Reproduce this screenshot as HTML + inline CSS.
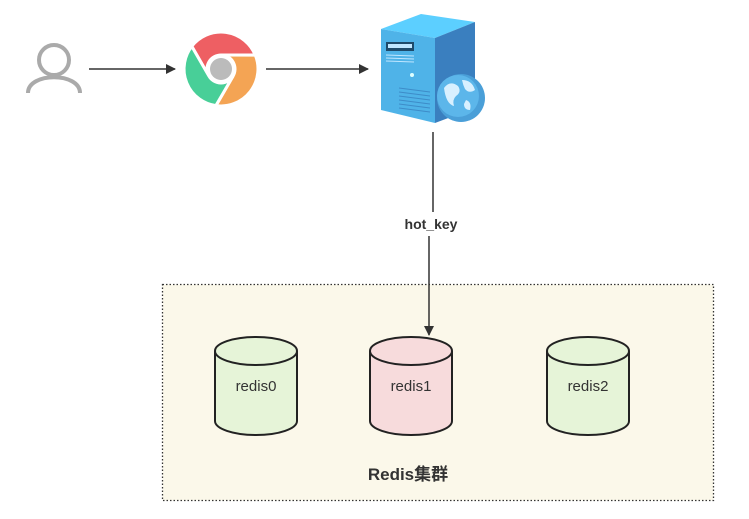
<!DOCTYPE html>
<html><head><meta charset="utf-8"><style>
html,body{margin:0;padding:0;background:#fff;}
svg{display:block;}
text{font-family:"Liberation Sans","Noto Sans CJK SC",sans-serif;}
</style></head><body>
<svg width="749" height="519" viewBox="0 0 749 519" xmlns="http://www.w3.org/2000/svg">
<defs>
<marker id="ah" markerWidth="10" markerHeight="10" refX="9" refY="5" orient="auto" markerUnits="userSpaceOnUse">
<path d="M0,0 L10,5 L0,10 Z" fill="#333"/>
</marker>
<path id="seg" d="M0,-14 L34.2,-14 A37,37 0 0 0 -29.16,-22.78 L-12.12,7 A14,14 0 0 1 0,-14 Z" stroke="#fff" stroke-width="3"/>
</defs>
<rect x="162.5" y="284.5" width="551" height="216" fill="#fbf8ea" stroke="#333" stroke-width="1.3" stroke-dasharray="1.5,2"/>
<g fill="none" stroke="#aaa" stroke-width="4">
<circle cx="54" cy="60" r="15"/>
<path d="M28,93 C28,72 80,72 80,93"/>
</g>
<line x1="89" y1="69" x2="175" y2="69" stroke="#333" stroke-width="1.5" marker-end="url(#ah)"/>
<line x1="266" y1="69" x2="368" y2="69" stroke="#333" stroke-width="1.5" marker-end="url(#ah)"/>
<g transform="translate(221,69)">
<use href="#seg" fill="#ee5f63"/>
<use href="#seg" fill="#f4a454" transform="rotate(120)"/>
<use href="#seg" fill="#48cf98" transform="rotate(240)"/>
<circle r="15" fill="#fff"/>
<circle r="11" fill="#bbb"/>
</g>
<g>
<polygon points="381,29 421,14 475,22 435,38" fill="#5ccfff"/>
<polygon points="381,29 435,38 435,123 381,110" fill="#4fb3e8"/>
<polygon points="435,38 475,22 475,108 435,123" fill="#3a7fbf"/>
<rect x="386" y="42" width="28" height="9" fill="#1e4a6a"/>
<rect x="388" y="44" width="24" height="4" fill="#bfe6ff"/>
<g stroke="#bfe6ff" stroke-width="1"><line x1="386" y1="55" x2="414" y2="56"/><line x1="386" y1="58" x2="414" y2="59"/><line x1="386" y1="61" x2="414" y2="62"/></g>
<circle cx="412" cy="75" r="2" fill="#dff"/>
<g stroke="#3d8cc8" stroke-width="1"><line x1="399" y1="88" x2="430" y2="92"/><line x1="399" y1="92" x2="430" y2="96"/><line x1="399" y1="96" x2="430" y2="100"/><line x1="399" y1="100" x2="430" y2="104"/><line x1="399" y1="104" x2="430" y2="108"/><line x1="399" y1="108" x2="430" y2="112"/></g>
<circle cx="461" cy="98" r="24" fill="#4a9fd8"/>
<circle cx="458" cy="96" r="21" fill="#5cb6ea"/>
<path d="M444,88 q6,-8 14,-2 q4,6 -2,10 q-4,4 -2,10 q-8,-2 -10,-18 Z M462,80 q10,0 13,10 q-6,4 -10,-1 q-2,-4 -3,-9 Z M466,100 q6,2 4,10 q-6,0 -6,-6 Z" fill="#d8f0ff"/>
</g>
<line x1="433" y1="132" x2="433" y2="212" stroke="#333" stroke-width="1.5"/>
<line x1="429" y1="236" x2="429" y2="335" stroke="#333" stroke-width="1.5" marker-end="url(#ah)"/>
<text x="431" y="229" font-size="14" font-weight="bold" text-anchor="middle" fill="#333">hot_key</text>
<g stroke="#222" stroke-width="2">
<path d="M215,351 L215,421 A41,14 0 0 0 297,421 L297,351" fill="#e6f4d8"/>
<ellipse cx="256" cy="351" rx="41" ry="14" fill="#e6f4d8"/>
<path d="M370,351 L370,421 A41,14 0 0 0 452,421 L452,351" fill="#f7dbdc"/>
<ellipse cx="411" cy="351" rx="41" ry="14" fill="#f7dbdc"/>
<path d="M547,351 L547,421 A41,14 0 0 0 629,421 L629,351" fill="#e6f4d8"/>
<ellipse cx="588" cy="351" rx="41" ry="14" fill="#e6f4d8"/>
</g>
<g font-size="15" fill="#333" text-anchor="middle">
<text x="256" y="391">redis0</text>
<text x="411" y="391">redis1</text>
<text x="588" y="391">redis2</text>
</g>
<text x="408" y="480" font-size="17" font-weight="bold" text-anchor="middle" fill="#333">Redis集群</text>
</svg>
</body></html>
